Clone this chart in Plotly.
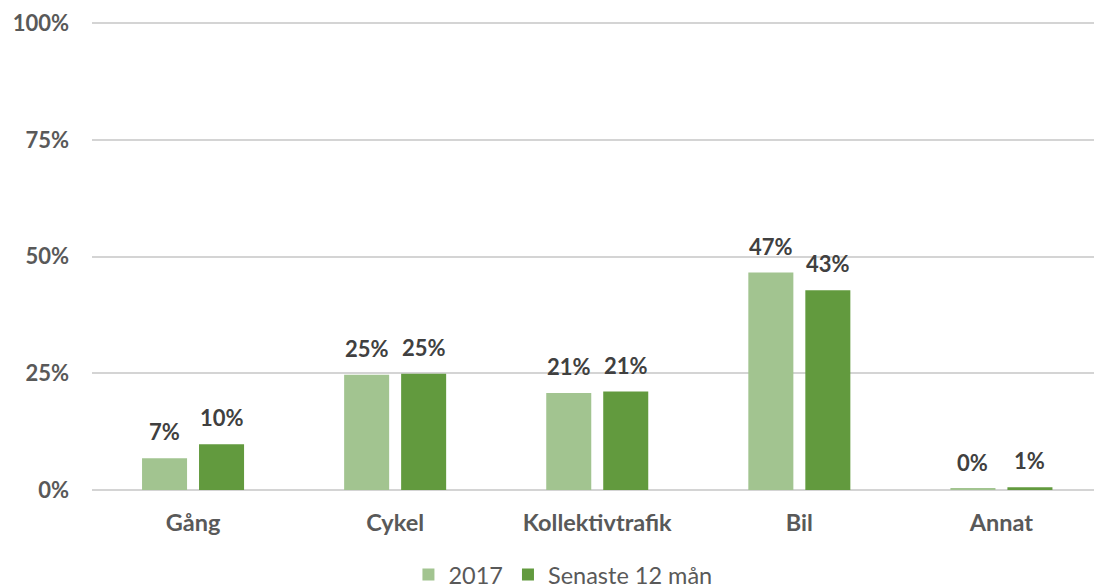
import plotly.graph_objects as go

categories = ["Gång", "Cykel", "Kollektivtrafik", "Bil", "Annat"]
series_names = ["2017", "Senaste 12 mån"]
values_2017 = [0.068, 0.247, 0.208, 0.466, 0.003]
values_senaste = [0.098, 0.249, 0.211, 0.428, 0.006]
colors = ["#a2c490", "#629a3e"]
y_ticks = [0, 0.25, 0.5, 0.75, 1.0]

FONT = "Lato"
fig = go.Figure()
all_values = [values_2017, values_senaste]
for name, vals, col in zip(series_names, all_values, colors):
    fig.add_trace(go.Bar(
        x=categories, y=vals, name=name,
        marker=dict(color=col, line=dict(width=0)),
        hoverinfo="skip",
    ))

slot_px = 57
annotations = []
for i, vals in enumerate(all_values):
    shift = (i - 0.5) * slot_px
    for c, v in zip(categories, vals):
        annotations.append(dict(
            x=c, y=v, xref="x", yref="y", text=f"{v:.0%}",
            showarrow=False, xshift=shift, yshift=11, yanchor="bottom",
            font=dict(family=FONT, size=22, color="#404040", weight="bold"),
        ))

fig.update_layout(
    width=1094, height=588,
    margin=dict(l=92, r=0, t=22, b=98, autoexpand=False),
    paper_bgcolor="white", plot_bgcolor="white",
    barmode="group", bargap=0.436, bargroupgap=0.21,
    font=dict(family=FONT, color="#595959"),
    annotations=annotations,
    legend=dict(
        orientation="h", x=0.470, xanchor="center", y=-0.181, yanchor="middle",
        font=dict(family=FONT, size=23.5, color="#595959"),
        itemwidth=30, traceorder="normal",
    ),
    showlegend=True,
)
fig.update_xaxes(
    range=[-0.5, 4.458], showgrid=False, showline=False, zeroline=False,
    tickfont=dict(family=FONT, size=23.5, color="#595959", weight="bold"),
    ticks="", ticklabelstandoff=16, automargin=False,
)
fig.update_yaxes(
    range=[0, 1.003], tickvals=y_ticks, tickformat=".0%",
    showgrid=True, gridcolor="#d4d4d4", gridwidth=1.5,
    zeroline=True, zerolinecolor="#d4d4d4", zerolinewidth=1.5,
    showline=False, ticks="", ticklabelstandoff=22, automargin=False,
    tickfont=dict(family=FONT, size=22, color="#595959", weight="bold"),
)
fig.write_html(
    "out.html",
    config={"displayModeBar": False},
    post_script="document.body.style.margin='0';document.body.style.overflow='hidden';",
)
